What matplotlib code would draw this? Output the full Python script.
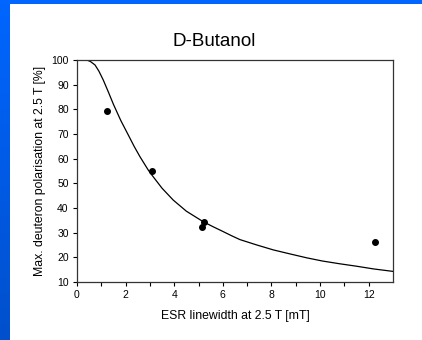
import numpy as np
import matplotlib.pyplot as plt

plt.rcParams["font.family"] = ["Liberation Sans", "DejaVu Sans"]

# measured points
esr_width = [1.25, 3.07, 5.16, 5.22, 12.26]
max_pol = [79.2, 55.2, 32.4, 34.2, 26.3]

# model curve
curve_x = [0.0, 0.4, 0.55, 0.74, 0.9, 1.08, 1.3, 1.5, 1.8, 2.11, 2.35, 2.59, 2.93,
           3.07, 3.5, 3.96, 4.5, 5.2, 5.6, 6.0, 6.35, 6.7, 7.4, 8.08, 8.8, 9.45,
           10.1, 10.8, 11.5, 12.2, 13.0]
curve_y = [100.0, 100.0, 99.4, 98.0, 95.5, 91.9, 86.8, 82.0, 75.5, 69.6, 65.0, 60.8,
           55.4, 53.5, 48.0, 43.2, 38.7, 34.4, 32.4, 30.5, 28.8, 27.2, 25.0, 23.0,
           21.3, 19.8, 18.5, 17.4, 16.4, 15.3, 14.3]

x_ticks = [0, 2, 4, 6, 8, 10, 12]
y_ticks = [10, 20, 30, 40, 50, 60, 70, 80, 90, 100]

fig = plt.figure(figsize=(4.22, 3.4), dpi=100)
fig.patch.set_facecolor("white")

# blue slide frame on left and top
frame = fig.add_axes([0, 0, 10 / 422, 1])
grad = np.linspace(1, 0, 256).reshape(-1, 1)
frame.imshow(grad, aspect="auto", cmap=plt.matplotlib.colors.LinearSegmentedColormap.from_list(
    "blu", ["#0050CC", "#0066FF"]), extent=[0, 1, 0, 1])
frame.axis("off")
top = fig.add_axes([0, 1 - 4 / 340, 1, 4 / 340])
top.set_facecolor("#0066FF")
top.set_xticks([])
top.set_yticks([])
for s in top.spines.values():
    s.set_visible(False)

ax = fig.add_axes([77 / 422, 1 - 282 / 340, (393 - 77) / 422, (282 - 60) / 340])
ax.plot(curve_x, curve_y, color="black", lw=0.9)
ax.scatter(esr_width, max_pol, s=16, color="black", zorder=3)

ax.set_xlim(0, 13)
ax.set_ylim(10, 100)
ax.set_xticks(x_ticks)
ax.set_xticks(range(1, 13, 2), minor=True)
ax.set_yticks(y_ticks)
ax.tick_params(axis="both", direction="out", length=3, width=0.8, labelsize=7.5, pad=3,
               top=False, right=False)
ax.tick_params(axis="x", which="minor", direction="out", length=3, width=0.8)
for s in ax.spines.values():
    s.set_color("#333333")
    s.set_linewidth(0.9)

ax.set_xlabel("ESR linewidth at 2.5 T [mT]", fontsize=8.8, labelpad=7)
ax.set_ylabel("Max. deuteron polarisation at 2.5 T [%]", fontsize=8.8, labelpad=4)

fig.text(214 / 422, 1 - 41 / 340, "D-Butanol", fontsize=13.5, ha="center", va="center")

fig.savefig("out.png", dpi=100)
